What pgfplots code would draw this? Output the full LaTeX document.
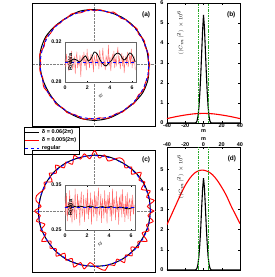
\documentclass[border=0pt]{standalone}
\usepackage{fontspec}
\setmainfont{Liberation Sans}
\usepackage{pgfplots}
\usepackage{pgfplotstable}
\pgfplotsset{compat=1.18}

% black (delta=0.06(2pi)) radius, panel (a), every 15 deg
\pgfplotstableread{
p R
0 0.300
15 0.300
30 0.301
45 0.303
60 0.302
75 0.300
90 0.303
105 0.306
120 0.301
135 0.304
150 0.310
165 0.308
180 0.302
195 0.298
210 0.296
225 0.299
240 0.302
255 0.307
270 0.309
285 0.307
300 0.302
315 0.304
330 0.309
345 0.307
360 0.300
}\blackA
% black radius, panel (c)
\pgfplotstableread{
p R
0 0.300
15 0.302
30 0.304
45 0.303
60 0.301
75 0.303
90 0.302
105 0.300
120 0.302
135 0.303
150 0.301
165 0.299
180 0.301
195 0.302
210 0.300
225 0.301
240 0.302
255 0.300
270 0.299
285 0.301
300 0.300
315 0.298
330 0.297
345 0.299
360 0.300
}\blackC
% regular circle
\pgfplotstableread{
p R
0 0.3
10 0.3
20 0.3
30 0.3
40 0.3
50 0.3
60 0.3
70 0.3
80 0.3
90 0.3
100 0.3
110 0.3
120 0.3
130 0.3
140 0.3
150 0.3
160 0.3
170 0.3
180 0.3
190 0.3
200 0.3
210 0.3
220 0.3
230 0.3
240 0.3
250 0.3
260 0.3
270 0.3
280 0.3
290 0.3
300 0.3
310 0.3
320 0.3
330 0.3
340 0.3
350 0.3
360 0.3
}\regular
% red radius on the circle, panel (a), every 5 deg
\pgfplotstableread{
R
0.306
0.298
0.304
0.300
0.297
0.305
0.301
0.296
0.307
0.302
0.299
0.303
0.295
0.302
0.308
0.298
0.301
0.304
0.297
0.306
0.300
0.296
0.303
0.307
0.299
0.302
0.297
0.305
0.301
0.298
0.306
0.303
0.296
0.302
0.308
0.300
0.298
0.304
0.301
0.295
0.303
0.307
0.299
0.302
0.296
0.305
0.302
0.297
0.306
0.301
0.298
0.304
0.308
0.299
0.303
0.296
0.302
0.306
0.300
0.297
0.305
0.302
0.298
0.307
0.301
0.296
0.303
0.305
0.299
0.302
0.304
0.299
0.306
}\redCircA
% red radius on the circle, panel (c), every 5 deg
\pgfplotstableread{
R
0.320
0.285
0.325
0.290
0.318
0.278
0.312
0.292
0.326
0.282
0.310
0.286
0.315
0.318
0.296
0.280
0.308
0.288
0.328
0.284
0.314
0.291
0.320
0.280
0.306
0.285
0.324
0.290
0.317
0.278
0.311
0.293
0.305
0.322
0.318
0.288
0.321
0.292
0.316
0.276
0.309
0.287
0.327
0.285
0.312
0.290
0.319
0.279
0.307
0.284
0.323
0.289
0.318
0.280
0.296
0.312
0.326
0.300
0.314
0.287
0.322
0.291
0.315
0.277
0.308
0.286
0.326
0.282
0.311
0.289
0.320
0.288
0.320
}\redCircC
% red R(phi) in inset (a), 90 points over 0..2pi
\pgfplotstableread{
R
0.303
0.295
0.308
0.298
0.301
0.291
0.306
0.297
0.311
0.296
0.293
0.302
0.305
0.288
0.304
0.309
0.294
0.301
0.297
0.307
0.285
0.303
0.306
0.299
0.310
0.296
0.302
0.292
0.313
0.298
0.304
0.294
0.301
0.308
0.297
0.305
0.290
0.306
0.302
0.296
0.309
0.299
0.303
0.293
0.312
0.302
0.295
0.304
0.314
0.297
0.301
0.292
0.306
0.303
0.298
0.317
0.296
0.305
0.291
0.302
0.307
0.299
0.311
0.294
0.303
0.297
0.308
0.315
0.298
0.304
0.293
0.301
0.309
0.296
0.306
0.289
0.302
0.305
0.297
0.310
0.295
0.301
0.307
0.298
0.313
0.294
0.303
0.299
0.304
0.292
}\redInA
% red R(phi) in inset (c)
\pgfplotstableread{
R
0.325
0.282
0.332
0.270
0.310
0.292
0.338
0.278
0.315
0.265
0.320
0.305
0.272
0.342
0.288
0.275
0.330
0.295
0.318
0.260
0.312
0.335
0.280
0.294
0.328
0.268
0.308
0.322
0.285
0.340
0.274
0.310
0.290
0.333
0.262
0.318
0.304
0.278
0.336
0.286
0.326
0.270
0.312
0.344
0.282
0.292
0.330
0.266
0.320
0.302
0.276
0.338
0.288
0.316
0.264
0.328
0.296
0.334
0.280
0.310
0.270
0.342
0.284
0.322
0.306
0.272
0.336
0.290
0.314
0.262
0.324
0.294
0.330
0.278
0.340
0.286
0.308
0.268
0.326
0.282
0.334
0.274
0.312
0.318
0.270
0.320
0.290
0.328
0.284
0.306
}\redInC

\definecolor{mygreen}{RGB}{40,170,40}
\definecolor{lightred}{RGB}{255,105,105}

\pgfplotsset{
  base/.style={scale only axis, anchor=south west,
    /pgf/number format/assume math mode=true,
    tick label style={font=\fontsize{5.5}{6}\selectfont\bfseries},
    label style={font=\fontsize{6}{7}\selectfont\bfseries},
    axis line style={line width=0.5pt},
    tick style={black, line width=0.4pt},
    major tick length=2pt},
  circ/.style={base, xtick=\empty, ytick=\empty,
    axis line style={line width=1pt}},
  inset/.style={base, axis background/.style={fill=white},
    xmin=0, xmax=6.35, xtick={0,2,4,6},
    axis line style={line width=0.4pt, black!60},
    xlabel={$\phi$}, xlabel style={yshift=3pt},
    major tick length=1.5pt,
    tick label style={font=\fontsize{5.2}{6}\selectfont\bfseries},
    yticklabel style={/pgf/number format/fixed, /pgf/number format/precision=2, /pgf/number format/fixed zerofill}},
  spec/.style={base, xmin=-40, xmax=40, xtick={-40,-20,0,20,40}, ymin=0,
    xticklabel style={inner sep=0.5pt}}
}

\begin{document}
\begin{tikzpicture}
\useasboundingbox (0,0) rectangle (275pt,277pt);

% ---------- (a) ----------
\begin{axis}[circ, at={(33pt,151pt)}, width=123pt, height=123pt,
  xmin=-0.34, xmax=0.34, ymin=-0.34, ymax=0.34,
  legend style={at={(axis description cs:-0.075,-0.005)}, anchor=north west,
    font=\fontsize{5.5}{6}\selectfont\bfseries, draw=black, thin, fill=white,
    inner sep=1pt, row sep=-1.5pt, cells={anchor=west}},
  legend image code/.code={\draw[#1] (0pt,0pt) -- (14pt,0pt);}]
\addplot[gray, densely dotted, thin, forget plot] coordinates {(0,-0.34) (0,0.34)};
\addplot[gray, densely dotted, thin, forget plot] coordinates {(-0.34,0) (0.34,0)};
\addplot[black, line width=1pt, smooth] table[x expr={\thisrow{R}*cos(\thisrow{p})}, y expr={\thisrow{R}*sin(\thisrow{p})}] {\blackA};
\addlegendentry{δ = 0.06(2π)}
\addplot[red, line width=0.9pt, smooth] table[x index=0, y index=0, x expr={\thisrow{R}*cos(5*\coordindex)}, y expr={\thisrow{R}*sin(5*\coordindex)}] {\redCircA};
\addlegendentry{δ = 0.005(2π)}
\addplot[blue, line width=0.9pt, dashed, smooth] table[x expr={\thisrow{R}*cos(\thisrow{p})}, y expr={\thisrow{R}*sin(\thisrow{p})}] {\regular};
\addlegendentry{regular}
\node[font=\fontsize{6.5}{7}\selectfont\bfseries] at (rel axis cs:0.92,0.9) {(a)};
\end{axis}

% inset (a)
\begin{axis}[inset, at={(65pt,195pt)}, width=71pt, height=40pt,
  ymin=0.28, ymax=0.32, ytick={0.28,0.32}]
\addplot[lightred, line width=0.4pt] table[x index=0, y index=0, x expr={\coordindex*0.0706}, y=R] {\redInA};
\addplot[black, line width=0.8pt, smooth] table[x expr={\thisrow{p}/57.29578}, y=R] {\blackA};
\addplot[blue, line width=0.9pt, dashed] coordinates {(0,0.3) (6.28,0.3)};
\node[rotate=90, font=\fontsize{5.5}{6}\selectfont\bfseries] at (rel axis cs:0.08,0.5) {R(φ)/a};
\end{axis}

% ---------- (b) ----------
\begin{axis}[spec, at={(167pt,154pt)}, width=73pt, height=120pt,
  ymax=6, ytick={0,1,2,3,4,5,6}, xlabel={m},
  xlabel style={at={(axis description cs:0.5,0)}, anchor=north, yshift=-6.3pt, inner sep=0pt, font=\fontsize{5.5}{6}\selectfont\bfseries}]
\addplot[red, line width=1.1pt, smooth] coordinates {(-40,0.22) (-30,0.32) (-20,0.40) (-10,0.46) (0,0.48) (10,0.46) (20,0.40) (30,0.32) (40,0.22)};
\addplot[black, line width=1.1pt] coordinates {(-40,0) (-9,0) (-8,0.03) (-7,0.12) (-6,0.35) (-5,0.8) (-4,1.5) (-3,2.4) (-2,3.5) (-1,4.6) (0,5.4) (1,4.8) (2,3.7) (3,2.6) (4,1.6) (5,0.85) (6,0.35) (7,0.1) (8,0.02) (9,0) (40,0)};
\addplot[mygreen, line width=1pt, dash pattern=on 2.5pt off 1pt on 0.8pt off 1pt] coordinates {(-5,0) (-5,6)};
\addplot[mygreen, line width=1pt, dash pattern=on 2.5pt off 1pt on 0.8pt off 1pt] coordinates {(5,0) (5,6)};
\node[rotate=90, anchor=north east, font=\fontsize{5.5}{6}\selectfont] at (rel axis cs:0.09,0.97) {$\langle|C_m|^2\rangle\times10^6$};
\node[font=\fontsize{6.5}{7}\selectfont\bfseries] at (rel axis cs:0.88,0.9) {(b)};
\end{axis}

% ---------- (c) ----------
\begin{axis}[circ, at={(33pt,5pt)}, width=123pt, height=122pt,
  xmin=-0.33, xmax=0.33, ymin=-0.33, ymax=0.33]
\addplot[gray, densely dotted, thin] coordinates {(0,-0.33) (0,0.33)};
\addplot[gray, densely dotted, thin] coordinates {(-0.33,0) (0.33,0)};
\addplot[black, line width=1pt, smooth] table[x expr={\thisrow{R}*cos(\thisrow{p})}, y expr={\thisrow{R}*sin(\thisrow{p})}] {\blackC};
\addplot[red, line width=0.9pt, smooth] table[x index=0, y index=0, x expr={\thisrow{R}*cos(5*\coordindex)}, y expr={\thisrow{R}*sin(5*\coordindex)}] {\redCircC};
\addplot[blue, line width=0.9pt, dashed, smooth] table[x expr={\thisrow{R}*cos(\thisrow{p})}, y expr={\thisrow{R}*sin(\thisrow{p})}] {\regular};
\node[font=\fontsize{6.5}{7}\selectfont\bfseries] at (rel axis cs:0.92,0.92) {(c)};
\end{axis}

% inset (c)
\begin{axis}[inset, at={(65pt,47pt)}, width=70pt, height=45pt,
  ymin=0.25, ymax=0.35, ytick={0.25,0.35}]
\addplot[lightred, line width=0.4pt] table[x index=0, y index=0, x expr={\coordindex*0.0706}, y=R] {\redInC};
\addplot[black, line width=0.8pt, smooth] table[x expr={\thisrow{p}/57.29578}, y=R] {\blackC};
\addplot[blue, line width=0.9pt, dashed] coordinates {(0,0.3) (6.28,0.3)};
\node[rotate=90, font=\fontsize{5.5}{6}\selectfont\bfseries] at (rel axis cs:0.08,0.5) {R(φ)/a};
\end{axis}

% ---------- (d) ----------
\begin{axis}[spec, at={(167pt,7pt)}, width=73pt, height=123pt,
  ymax=6.1, ytick={0,1,2,3,4,5}, xticklabel pos=upper, xlabel={m},
  xlabel style={at={(axis description cs:0.5,1)}, anchor=south, yshift=6.3pt, inner sep=0pt, font=\fontsize{5.5}{6}\selectfont\bfseries}]
\addplot[red, line width=1.1pt, smooth] coordinates {(-40,2.25) (-35,2.75) (-30,3.25) (-25,3.75) (-20,4.2) (-15,4.55) (-10,4.8) (-5,4.93) (0,4.95) (5,4.88) (10,4.72) (15,4.45) (20,4.1) (25,3.7) (30,3.2) (35,2.75) (40,2.3)};
\addplot[black, line width=1.1pt] coordinates {(-40,0) (-9,0) (-8,0.03) (-7,0.1) (-6,0.3) (-5,0.7) (-4,1.3) (-3,2.1) (-2,3.1) (-1,4.0) (0,4.55) (1,4.1) (2,3.2) (3,2.2) (4,1.35) (5,0.7) (6,0.3) (7,0.1) (8,0.02) (9,0) (40,0)};
\addplot[mygreen, line width=1pt, dash pattern=on 2.5pt off 1pt on 0.8pt off 1pt] coordinates {(-5,0) (-5,6.1)};
\addplot[mygreen, line width=1pt, dash pattern=on 2.5pt off 1pt on 0.8pt off 1pt] coordinates {(5,0) (5,6.1)};
\node[rotate=90, anchor=north east, font=\fontsize{5.5}{6}\selectfont] at (rel axis cs:0.09,0.97) {$\langle|C_m|^2\rangle\times10^6$};
\node[font=\fontsize{6.5}{7}\selectfont\bfseries] at (rel axis cs:0.89,0.9) {(d)};
\end{axis}
\end{tikzpicture}
\end{document}
